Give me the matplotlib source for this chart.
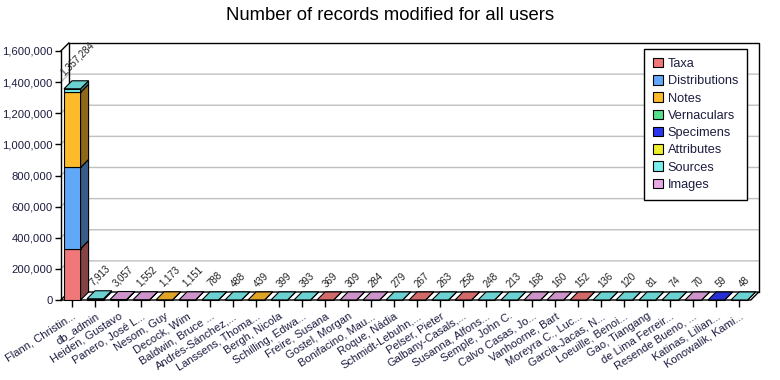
import matplotlib
matplotlib.use("Agg")
import matplotlib.pyplot as plt
import numpy as np
from matplotlib.patches import Polygon, Patch
from matplotlib.ticker import FuncFormatter

plt.rcParams['font.family'] = ['Liberation Sans', 'DejaVu Sans']

users = ["Flann, Christin...", "db_admin", "Heiden, Gustavo", "Panero, José L...",
         "Nesom, Guy", "Decock, Wim", "Baldwin, Bruce ...", "Andrés-Sánchez,...",
         "Lanssens, Thoma...", "Bergh, Nicola", "Schilling, Edwa...", "Freire, Susana",
         "Gostel, Morgan", "Bonifacino, Mau...", "Roque, Nádia", "Schmidt-Lebuhn,...",
         "Pelser, Pieter", "Galbany-Casals,...", "Susanna, Alfons...", "Semple, John C.",
         "Calvo Casas, Jo...", "Vanhoorne, Bart", "Moreyra C., Luc...", "Garcia-Jacas, N...",
         "Loeuille, Benoi...", "Gao, Tiangang", "de Lima Ferreir...", "Resende Bueno, ...",
         "Katinas, Lilian...", "Konowalik, Kami..."]

series_names = ["Taxa", "Distributions", "Notes", "Vernaculars", "Specimens",
                "Attributes", "Sources", "Images"]

taxa          = [330000, 0, 0, 0, 0, 0, 0, 0, 0, 0, 0, 369, 0, 0, 0, 267, 0, 258, 0, 0,
                 0, 0, 152, 0, 0, 0, 0, 0, 0, 0]
distributions = [522000, 0, 0, 0, 0, 0, 0, 0, 0, 0, 0, 0, 0, 0, 0, 0, 0, 0, 0, 0,
                 0, 0, 0, 0, 0, 0, 0, 0, 0, 0]
notes         = [483000, 0, 0, 0, 1173, 0, 0, 0, 439, 0, 0, 0, 0, 0, 0, 0, 0, 0, 0, 0,
                 0, 0, 0, 0, 0, 0, 0, 0, 0, 0]
vernaculars   = [0] * 30
specimens     = [0, 0, 0, 0, 0, 0, 0, 0, 0, 0, 0, 0, 0, 0, 0, 0, 0, 0, 0, 0,
                 0, 0, 0, 0, 0, 0, 0, 0, 59, 0]
attributes    = [0] * 30
sources       = [22284, 7913, 0, 0, 0, 0, 788, 488, 0, 399, 393, 0, 0, 0, 279, 0, 263, 0, 248, 213,
                 0, 0, 0, 136, 120, 81, 74, 0, 0, 48]
images        = [0, 0, 3057, 1552, 0, 1151, 0, 0, 0, 0, 0, 0, 309, 284, 0, 0, 0, 0, 0, 0,
                 168, 160, 0, 0, 0, 0, 0, 70, 0, 0]

series_values = [taxa, distributions, notes, vernaculars, specimens, attributes, sources, images]
series_colors = ["#F07878", "#62A8F8", "#FDBA2A", "#55E08A", "#2A35F0", "#EEEE2A", "#7AEEEE", "#E8A8E4"]

y_ticks = [0, 200000, 400000, 600000, 800000, 1000000, 1200000, 1400000, 1600000]

W, H = 780, 380
fig = plt.figure(figsize=(W / 100, H / 100), dpi=100)
fig.patch.set_facecolor("white")
L, R, B, T = 60.8, 750.8, 300.0, 51.0
ax = fig.add_axes([L / W, (H - B) / H, (R - L) / W, (B - T) / H])
n = len(users)
ax.set_xlim(-0.5, n - 0.5)
ax.set_ylim(y_ticks[0], y_ticks[-1])
for s in ["top", "right", "bottom"]:
    ax.spines[s].set_visible(False)
ax.spines["left"].set_linewidth(1.0)
ax.patch.set_visible(False)

DX, DY = 8.0, 8.0  # depth offset in pixels


def back(pts):
    p = ax.transData.transform(np.asarray(pts, dtype=float))
    p = p + np.array([DX, DY])
    return ax.transData.inverted().transform(p)


def shade(c, f):
    rgb = np.array(matplotlib.colors.to_rgb(c))
    return tuple(np.clip(rgb * f, 0, 1))


x0, x1 = -0.5, n - 0.5
ytop = y_ticks[-1]

for v in y_ticks[1:-1]:
    pb = back([[x0, v], [x1, v]])
    ax.plot([x0, pb[0][0], pb[1][0]], [v, pb[0][1], pb[1][1]], color="#C0C0C0",
            lw=1.0, zorder=1, clip_on=False)

pb = back([[x0, 0], [x0, ytop], [x1, ytop], [x1, 0]])
ax.plot(pb[:, 0], pb[:, 1], color="black", lw=1.0, zorder=1.5, clip_on=False)
ax.plot([x0, pb[1][0]], [ytop, pb[1][1]], color="black", lw=1.0, zorder=1.5, clip_on=False)

fb = back([[x1, 0], [x0, 0]])
floor = Polygon([[x0, 0], [x1, 0], fb[0], fb[1]], closed=True, facecolor="white",
                edgecolor="black", lw=1.0, zorder=2, clip_on=False)
ax.add_patch(floor)

bw = 0.72
vals = np.array(series_values, dtype=float)
totals = vals.sum(axis=0)
for i in range(n):
    bottom = 0.0
    nz = [k for k in range(len(series_names)) if vals[k, i] > 0]
    for k in nz:
        v = vals[k, i]
        c = series_colors[k]
        top = bottom + v
        xl, xr = i - bw / 2, i + bw / 2
        ax.bar(i, v, bottom=bottom, width=bw, color=c, edgecolor="black", lw=0.8,
               zorder=3, clip_on=False)
        sb = back([[xr, top], [xr, bottom]])
        ax.add_patch(Polygon([[xr, bottom], [xr, top], sb[0], sb[1]], closed=True,
                             facecolor=shade(c, 0.56), edgecolor="black", lw=0.8,
                             zorder=3, clip_on=False))
        if k == nz[-1]:
            tb = back([[xr, top], [xl, top]])
            ax.add_patch(Polygon([[xl, top], [xr, top], tb[0], tb[1]], closed=True,
                                 facecolor=shade(c, 0.88), edgecolor="black", lw=0.8,
                                 zorder=3.5, clip_on=False))
        bottom = top
    ax.annotate(f"{int(totals[i]):,}", xy=(i, totals[i]), xytext=(DX / 2 + 1, DY + 3),
                textcoords="offset pixels", ha="center", va="bottom", rotation=45,
                fontsize=7.0, color="#202020", zorder=5, annotation_clip=False)

ax.set_yticks(y_ticks)
ax.yaxis.set_major_formatter(FuncFormatter(lambda v, p: f"{int(v):,}"))
ax.tick_params(axis="y", length=4, width=1.0, colors="black", labelcolor="#1C1C40",
               labelsize=8.1, pad=2)
ax.set_xticks(range(n))
ax.set_xticklabels(users, rotation=33, ha="right", rotation_mode="anchor",
                   fontsize=8.0, color="#1C1C40")
ax.tick_params(axis="x", length=5, width=1.0, colors="black", labelcolor="#1C1C40", pad=3)

fig.text(390 / W, 1 - 15 / H, "Number of records modified for all users", ha="center",
         va="center", fontsize=13.3, color="black")

handles = [Patch(facecolor=c, edgecolor="black", lw=0.8) for c in series_colors]
leg = ax.legend(handles, series_names, loc="upper right",
                bbox_to_anchor=(747 / W, 1 - 49 / H), bbox_transform=fig.transFigure,
                borderaxespad=0, fancybox=False, framealpha=1, edgecolor="black",
                fontsize=9.2, handlelength=0.75, handleheight=0.75, handletextpad=0.4,
                labelspacing=0.4, borderpad=0.7)
leg.get_frame().set_linewidth(1.0)
leg.set_zorder(10)
for t in leg.get_texts():
    t.set_color("#1C1C40")

fig.savefig("out.png", dpi=100, facecolor="white")
